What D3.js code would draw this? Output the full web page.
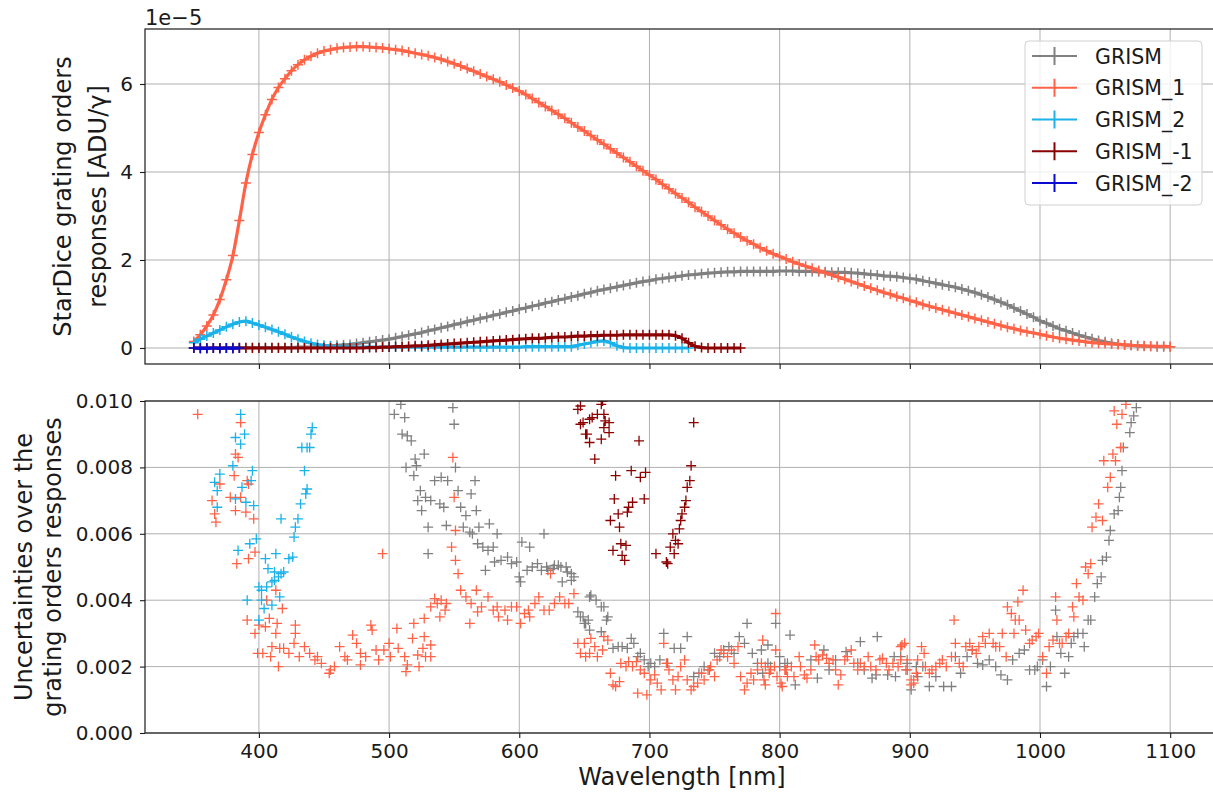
<!DOCTYPE html>
<html>
<head>
<meta charset="utf-8">
<script src="https://cdn.jsdelivr.net/npm/d3@7"></script>
<style>
  body { margin: 0; background: #fff; }
  text { font-family: "DejaVu Sans", sans-serif; fill: #1a1a1a; }
</style>
</head>
<body>
<script>
// ---- data ----
// top panel: responses in units of 1e-5 ADU/gamma, sampled every 5 nm from the given start
var seriesNames = ["GRISM", "GRISM_1", "GRISM_2", "GRISM_-1", "GRISM_-2"];
var seriesColors = ["#808080", "#ff6347", "#1ab2e8", "#8b0000", "#0a0ad2"];

var respStart = [350, 350, 350, 350, 350];

var respGrism = [0.0, 0.0, 0.0, 0.0, 0.0, 0.0, 0.01, 0.01, 0.01, 0.01, 0.01, 0.01, 0.01, 0.01, 0.01, 0.01, 0.02, 0.02, 0.02,
  0.03, 0.04, 0.05, 0.06, 0.07, 0.08, 0.1, 0.12, 0.14, 0.16, 0.18, 0.2, 0.23, 0.26, 0.29, 0.32, 0.35, 0.39, 0.42, 0.46,
  0.49, 0.53, 0.56, 0.6, 0.63, 0.67, 0.7, 0.74, 0.77, 0.81, 0.84, 0.88, 0.91, 0.95, 0.98, 1.02, 1.05, 1.09, 1.12, 1.16,
  1.19, 1.23, 1.26, 1.3, 1.33, 1.36, 1.39, 1.42, 1.45, 1.48, 1.51, 1.53, 1.56, 1.58, 1.6, 1.62, 1.64, 1.66, 1.67, 1.69,
  1.7, 1.71, 1.72, 1.73, 1.73, 1.74, 1.74, 1.74, 1.74, 1.74, 1.74, 1.75, 1.75, 1.75, 1.74, 1.74, 1.74, 1.73, 1.73, 1.72,
  1.72, 1.72, 1.71, 1.7, 1.69, 1.67, 1.66, 1.64, 1.63, 1.62, 1.6, 1.58, 1.56, 1.53, 1.5, 1.47, 1.44, 1.41, 1.38, 1.34,
  1.3, 1.26, 1.21, 1.16, 1.1, 1.04, 0.98, 0.91, 0.84, 0.77, 0.7, 0.62, 0.56, 0.5, 0.44, 0.39, 0.34, 0.29, 0.25, 0.21,
  0.17, 0.14, 0.11, 0.09, 0.07, 0.06, 0.05, 0.04, 0.04, 0.03, 0.03, 0.03];

var respGrism1 = [0.15, 0.3, 0.5, 0.75, 1.1, 1.55, 2.1, 2.9, 3.75, 4.4, 4.9, 5.3, 5.65, 5.92, 6.12, 6.3, 6.44, 6.55, 6.63,
  6.7, 6.75, 6.78, 6.81, 6.83, 6.84, 6.85, 6.85, 6.84, 6.83, 6.82, 6.8, 6.78, 6.76, 6.73, 6.7, 6.67, 6.64, 6.6, 6.56,
  6.51, 6.46, 6.41, 6.35, 6.29, 6.23, 6.17, 6.11, 6.05, 5.98, 5.91, 5.84, 5.76, 5.67, 5.58, 5.49, 5.4, 5.31, 5.22, 5.12,
  5.02, 4.93, 4.83, 4.73, 4.63, 4.53, 4.43, 4.33, 4.23, 4.13, 4.03, 3.93, 3.83, 3.72, 3.62, 3.51, 3.41, 3.31, 3.2, 3.1,
  3.0, 2.9, 2.8, 2.7, 2.61, 2.52, 2.44, 2.36, 2.28, 2.21, 2.14, 2.08, 2.02, 1.96, 1.91, 1.86, 1.81, 1.76, 1.71, 1.66,
  1.61, 1.56, 1.51, 1.46, 1.41, 1.36, 1.31, 1.26, 1.22, 1.17, 1.13, 1.08, 1.04, 0.99, 0.95, 0.91, 0.87, 0.83, 0.79, 0.75,
  0.71, 0.67, 0.63, 0.59, 0.55, 0.51, 0.47, 0.44, 0.4, 0.37, 0.34, 0.31, 0.28, 0.25, 0.22, 0.2, 0.18, 0.16, 0.14, 0.12,
  0.11, 0.1, 0.09, 0.08, 0.07, 0.06, 0.05, 0.05, 0.04, 0.04, 0.04, 0.03];

var respGrism2 = [0.12, 0.2, 0.27, 0.34, 0.41, 0.48, 0.54, 0.59, 0.61, 0.57, 0.52, 0.47, 0.42, 0.37, 0.31, 0.25, 0.2,
  0.15, 0.11, 0.08, 0.06, 0.04, 0.03, 0.02, 0.02, 0.02, 0.02, 0.02, 0.02, 0.02, 0.02, 0.02, 0.02, 0.02, 0.02, 0.02, 0.02,
  0.02, 0.02, 0.02, 0.02, 0.02, 0.02, 0.02, 0.02, 0.02, 0.02, 0.02, 0.02, 0.02, 0.02, 0.03, 0.03, 0.03, 0.03, 0.03, 0.03,
  0.03, 0.03, 0.06, 0.09, 0.12, 0.15, 0.16, 0.12, 0.05, 0.01, 0.0, 0.0, 0.0, 0.0, 0.0, 0.0, 0.0, 0.0, 0.0, 0.0];

var respGrismM1 = [0.0, 0.0, 0.0, 0.0, 0.0, 0.0, 0.0, 0.0, 0.0, 0.0, 0.0, 0.0, 0.0, 0.0, 0.0, 0.0, 0.0, 0.0, 0.0, 0.0,
  0.0, 0.0, 0.0, 0.0, 0.0, 0.0, 0.0, 0.01, 0.01, 0.02, 0.02, 0.03, 0.03, 0.04, 0.05, 0.05, 0.06, 0.07, 0.08, 0.09, 0.1,
  0.11, 0.12, 0.13, 0.14, 0.15, 0.16, 0.17, 0.18, 0.19, 0.2, 0.21, 0.22, 0.22, 0.23, 0.24, 0.25, 0.25, 0.26, 0.27, 0.27,
  0.28, 0.28, 0.29, 0.29, 0.29, 0.3, 0.3, 0.3, 0.3, 0.3, 0.3, 0.3, 0.3, 0.28, 0.22, 0.12, 0.04, 0.01, 0.0, 0.0, 0.0, 0.0,
  0.0, 0.0];

var respGrismM2 = [0.0, -0.01, -0.01, 0.0, -0.01, 0.0, -0.01, 0.0];

// bottom panel: relative uncertainties in units of 1e-3 (wavelength in nm, value)
var uncGrismWl = [504, 509, 510, 512, 513, 514, 517, 519, 520, 521, 522, 524, 525, 527, 528, 530, 530, 532, 535, 539,
  540, 542, 544, 545, 549, 550, 551, 553, 555, 557, 559, 562, 563, 564, 566, 567, 568, 569, 572, 574, 576, 577, 580, 581,
  583, 586, 591, 594, 598, 600, 601, 602, 606, 608, 610, 614, 617, 619, 621, 622, 626, 627, 630, 632, 633, 636, 637, 640,
  640, 642, 645, 647, 649, 650, 651, 653, 654, 654, 655, 659, 663, 663, 665, 667, 668, 672, 676, 679, 683, 686, 688, 691,
  693, 696, 699, 701, 704, 708, 711, 714, 719, 724, 729, 734, 738, 742, 746, 750, 754, 757, 761, 765, 769, 773, 775, 779,
  783, 786, 787, 791, 791, 793, 797, 800, 800, 804, 806, 808, 812, 824, 829, 834, 838, 843, 851, 860, 862, 865, 871, 874,
  875, 883, 888, 889, 893, 898, 898, 901, 905, 906, 910, 915, 920, 926, 932, 935, 939, 944, 948, 952, 956, 961, 966, 970,
  975, 979, 984, 988, 992, 996, 998, 1002, 1005, 1008, 1012, 1013, 1016, 1019, 1022, 1024, 1026, 1029, 1033, 1034, 1037,
  1039, 1042, 1044, 1047, 1048, 1051, 1053, 1054, 1057, 1060, 1061, 1062, 1063, 1064, 1069, 1070, 1072, 1074];
var uncGrism = [9.6, 9.9, 9.0, 9.5, 8.0, 8.95, 8.8, 7.75, 8.25, 8.05, 7.0, 7.3, 6.7, 8.4, 7.1, 6.2, 5.4, 7.0, 7.6, 6.9,
  7.7, 6.8, 6.25, 7.6, 9.8, 9.3, 8.0, 7.3, 6.8, 6.2, 6.55, 6.05, 7.2, 6.0, 7.6, 6.7, 5.7, 6.2, 5.6, 4.9, 5.5, 6.3, 5.6,
  5.15, 6.0, 5.2, 5.3, 5.1, 5.15, 4.7, 4.55, 5.75, 4.9, 5.6, 5.0, 5.1, 4.9, 6.0, 5.0, 4.9, 4.95, 5.05, 5.05, 5.0, 4.55,
  5.0, 4.85, 4.8, 4.6, 4.7, 3.65, 3.5, 3.5, 3.3, 3.3, 3.4, 3.1, 4.1, 4.15, 4.0, 3.8, 3.05, 3.8, 3.4, 3.5, 2.55, 2.6, 2.6,
  2.55, 2.85, 2.7, 2.3, 2.4, 2.2, 2.0, 2.1, 2.0, 2.2, 3.0, 2.1, 2.55, 2.55, 2.9, 1.7, 1.8, 2.0, 1.9, 2.4, 2.3, 2.5, 2.6,
  2.4, 2.9, 2.7, 3.3, 2.4, 2.1, 2.5, 1.8, 2.1, 2.65, 2.0, 3.3, 2.3, 2.0, 2.1, 2.1, 2.95, 1.45, 2.2, 1.65, 2.5, 1.9, 2.2,
  2.45, 2.1, 2.75, 1.9, 1.65, 1.75, 2.9, 1.75, 2.3, 1.7, 2.3, 1.9, 2.1, 1.3, 2.0, 1.7, 2.0, 1.4, 1.7, 1.4, 1.4, 2.3, 1.8,
  2.3, 2.5, 2.1, 2.05, 2.2, 2.0, 1.75, 1.6, 2.2, 2.4, 2.5, 1.9, 1.9, 2.0, 2.2, 1.4, 2.0, 3.7, 2.9, 2.4, 1.8, 2.3, 2.7,
  2.9, 3.0, 3.0, 2.6, 3.4, 3.4, 4.1, 4.5, 4.7, 5.2, 5.3, 5.8, 6.1, 6.6, 6.7, 7.1, 7.4, 7.9, 8.6, 9.05, 9.35, 9.55, 9.8];

var uncGrism1Wl = [353, 364, 366, 367, 370, 378, 381, 382, 382, 383, 384, 386, 386, 390, 391, 391, 392, 392, 396, 397,
  397, 399, 400, 403, 405, 406, 408, 409, 410, 413, 413, 414, 415, 416, 418, 419, 423, 427, 428, 428, 431, 435, 439, 443,
  445, 448, 454, 455, 458, 462, 466, 468, 472, 475, 478, 478, 482, 486, 487, 490, 492, 495, 496, 500, 501, 506, 507, 512,
  513, 514, 518, 519, 522, 523, 526, 527, 527, 528, 532, 532, 532, 535, 537, 539, 540, 543, 544, 548, 549, 550, 551, 551,
  553, 555, 559, 562, 563, 567, 568, 571, 576, 580, 583, 584, 589, 591, 594, 598, 601, 604, 607, 608, 612, 615, 619, 623,
  624, 627, 631, 635, 638, 642, 645, 647, 650, 651, 654, 655, 658, 660, 664, 665, 668, 670, 672, 674, 677, 678, 682, 684,
  687, 690, 691, 693, 696, 698, 701, 704, 706, 709, 711, 713, 715, 718, 720, 722, 724, 727, 729, 732, 734, 737, 740, 742,
  745, 747, 750, 752, 755, 757, 760, 763, 765, 768, 770, 773, 775, 778, 780, 783, 786, 787, 788, 789, 789, 792, 793, 796,
  797, 797, 798, 801, 802, 804, 805, 806, 809, 811, 815, 816, 819, 821, 824, 827, 828, 830, 833, 836, 838, 841, 843, 845,
  847, 850, 852, 855, 857, 860, 862, 865, 868, 870, 874, 877, 879, 882, 884, 887, 891, 893, 893, 894, 896, 897, 898, 901,
  901, 903, 903, 905, 906, 909, 911, 912, 915, 917, 920, 923, 925, 928, 932, 934, 935, 938, 941, 943, 946, 948, 951, 953,
  956, 958, 961, 964, 966, 969, 971, 974, 975, 978, 980, 981, 983, 984, 987, 989, 992, 994, 997, 999, 1002, 1005, 1007,
  1010, 1012, 1013, 1015, 1017, 1020, 1022, 1025, 1026, 1028, 1030, 1033, 1035, 1037, 1039, 1040, 1043, 1045, 1048, 1049,
  1052, 1054, 1056, 1057, 1058, 1059, 1062, 1063, 1066];
var uncGrism1 = [9.6, 7.0, 6.6, 6.35, 7.5, 7.1, 7.75, 8.4, 6.7, 5.1, 8.3, 9.35, 7.1, 6.65, 7.6, 3.4, 7.5, 5.25, 6.45, 5.45,
  3.0, 2.4, 3.25, 2.4, 3.2, 4.0, 3.45, 2.3, 2.6, 4.3, 3.0, 3.3, 2.0, 2.55, 3.75, 2.55, 2.4, 2.7, 3.25, 3.0, 2.3, 2.6, 2.4,
  2.2, 2.3, 2.1, 1.8, 1.9, 2.0, 2.6, 2.3, 2.2, 2.95, 2.7, 2.4, 2.05, 2.3, 3.25, 3.1, 2.5, 2.2, 5.4, 2.5, 2.7, 2.3, 3.15,
  2.55, 2.3, 1.85, 2.05, 2.85, 3.3, 2.35, 2.0, 2.55, 2.9, 3.45, 2.3, 2.65, 2.3, 3.8, 4.05, 3.9, 3.5, 4.0, 3.7, 3.9, 5.6,
  8.3, 7.1, 6.1, 5.2, 4.8, 4.3, 4.1, 3.3, 3.9, 4.3, 3.65, 3.8, 4.1, 3.7, 3.8, 3.5, 3.7, 3.4, 3.8, 3.8, 3.3, 3.6, 3.7, 3.5,
  3.9, 4.1, 3.7, 3.7, 4.8, 3.9, 4.1, 3.9, 3.9, 4.2, 2.7, 2.4, 2.7, 2.3, 2.4, 2.85, 2.6, 2.3, 2.5, 2.9, 2.8, 1.8, 1.45, 1.4,
  1.55, 2.1, 2.0, 2.15, 2.0, 2.15, 1.2, 1.9, 1.8, 1.15, 1.6, 1.75, 1.5, 1.3, 2.7, 2.1, 1.9, 1.6, 1.3, 1.7, 2.0, 2.2, 1.6,
  1.3, 1.4, 1.5, 1.8, 1.6, 1.9, 2.0, 1.7, 2.2, 2.5, 2.4, 2.3, 2.5, 2.1, 2.6, 1.7, 1.3, 1.5, 1.8, 1.6, 1.9, 2.1, 2.8, 1.6,
  2.0, 1.45, 1.8, 1.9, 2.0, 3.6, 2.5, 1.7, 1.5, 1.4, 1.9, 1.9, 1.7, 2.0, 1.7, 2.3, 2.0, 1.75, 1.65, 1.9, 2.65, 2.3, 2.2,
  2.35, 2.25, 2.1, 2.2, 1.9, 1.45, 1.75, 2.2, 2.3, 2.5, 2.1, 1.9, 2.1, 2.0, 2.3, 2.0, 1.9, 2.2, 2.25, 2.1, 1.9, 2.1, 2.0,
  2.2, 2.6, 2.65, 2.7, 1.9, 2.2, 1.45, 1.6, 1.6, 1.5, 1.8, 2.2, 2.6, 2.4, 2.0, 1.8, 1.9, 2.0, 2.1, 2.2, 2.0, 2.3, 3.4,
  2.7, 2.1, 2.0, 2.6, 2.7, 2.5, 2.4, 2.6, 2.9, 2.7, 3.0, 2.7, 2.6, 2.6, 3.0, 2.3, 3.8, 3.6, 3.0, 3.4, 3.95, 3.4, 4.3, 3.1,
  2.7, 2.8, 2.9, 3.0, 2.3, 1.8, 2.6, 2.8, 4.1, 3.4, 2.7, 2.7, 2.9, 3.0, 3.8, 3.5, 4.5, 4.1, 4.0, 5.0, 4.8, 5.1, 6.2, 6.5,
  6.9, 6.4, 8.2, 7.4, 7.7, 8.4, 9.7, 8.2, 9.3, 8.6, 9.6, 9.9];

var uncGrism2Wl = [366, 368, 368, 370, 380, 382, 382, 384, 386, 386, 387, 389, 390, 391, 393, 394, 395, 396, 398, 400,
  400, 402, 402, 404, 405, 406, 407, 410, 410, 412, 412, 413, 415, 416, 417, 417, 419, 423, 426, 427, 428, 430, 432, 433,
  435, 436, 437, 437, 439, 440, 441];
var uncGrism2 = [7.55, 7.3, 6.8, 7.8, 8.05, 8.9, 7.05, 5.5, 9.6, 8.7, 7.4, 9.0, 6.95, 4.0, 5.7, 7.6, 7.9, 6.85, 5.85, 4.4,
  3.4, 4.3, 4.0, 3.75, 5.25, 4.4, 4.95, 4.55, 3.85, 4.6, 4.85, 5.4, 4.7, 4.1, 4.8, 6.45, 4.85, 5.25, 5.3, 5.9, 6.2, 6.45,
  6.9, 8.6, 7.9, 7.2, 7.35, 8.6, 8.6, 9.0, 9.2];

var uncGrismM1Wl = [645, 647, 647, 649, 651, 652, 654, 654, 656, 658, 660, 663, 663, 664, 665, 665, 666, 669, 669, 670,
  672, 673, 674, 676, 677, 678, 679, 681, 682, 683, 684, 686, 687, 692, 693, 696, 697, 705, 713, 714, 716, 718, 719, 720,
  722, 723, 724, 725, 727, 728, 729, 731, 732, 734];
var uncGrismM1 = [9.75, 9.85, 9.3, 9.35, 9.0, 9.0, 9.45, 8.75, 9.5, 8.25, 9.6, 9.9, 8.85, 10.0, 9.6, 9.2, 9.4, 9.35, 9.05,
  6.4, 5.5, 7.05, 7.75, 6.6, 6.2, 5.7, 5.35, 5.2, 5.65, 6.65, 6.8, 7.9, 6.95, 8.8, 7.7, 7.05, 7.85, 5.4, 5.15, 5.1, 5.6,
  6.0, 5.4, 5.8, 5.7, 6.15, 6.4, 6.6, 6.8, 7.0, 7.4, 7.6, 8.05, 9.35];

var xTicks = [400, 500, 600, 700, 800, 900, 1000, 1100];
var topTicks = [0, 2, 4, 6];
var botTicks = [0, 2, 4, 6, 8, 10];

// ---- layout ----
var width = 1213, height = 793;
var left = 145, right = 1219,
    topPanel = {top: 29, bottom: 364},
    botPanel = {top: 401, bottom: 733};

var svg = d3.select("body").append("svg")
    .attr("width", width)
    .attr("height", height);

var x = d3.scaleLinear().domain([312.5, 1137.5]).range([left, right]),
    yTop = d3.scaleLinear().domain([-0.364, 7.25]).range([topPanel.bottom, topPanel.top]),
    yBot = d3.scaleLinear().domain([0, 10]).range([botPanel.bottom, botPanel.top]);

var defs = svg.append("defs");
[["clipTop", topPanel], ["clipBot", botPanel]].forEach(function(c) {
  defs.append("clipPath").attr("id", c[0]).append("rect")
    .attr("x", left).attr("y", c[1].top)
    .attr("width", right - left).attr("height", c[1].bottom - c[1].top);
});

// grids
function drawGrid(panel, yScale, yTickVals) {
  var g = svg.append("g").attr("class", "grid");
  g.selectAll(".vg").data(xTicks).enter().append("line")
    .attr("x1", d => x(d)).attr("x2", d => x(d))
    .attr("y1", panel.top).attr("y2", panel.bottom)
    .attr("stroke", "#b0b0b0").attr("stroke-width", 1);
  g.selectAll(".hg").data(yTickVals).enter().append("line")
    .attr("x1", left).attr("x2", right)
    .attr("y1", d => yScale(d)).attr("y2", d => yScale(d))
    .attr("stroke", "#b0b0b0").attr("stroke-width", 1);
}
drawGrid(topPanel, yTop, topTicks);
drawGrid(botPanel, yBot, botTicks);

// '+' marker path for a list of points
function plusPath(pts, a) {
  return pts.map(p => `M${p[0] - a},${p[1]}h${2 * a}M${p[0]},${p[1] - a}v${2 * a}`).join("");
}

// top panel: thick line + '+' markers (dense errorbar look)
var respSeries = [respGrism, respGrism1, respGrism2, respGrismM1, respGrismM2];
var gTop = svg.append("g").attr("clip-path", "url(#clipTop)");
respSeries.forEach(function(vals, i) {
  var pts = vals.map((v, j) => [x(respStart[i] + 5 * j), yTop(v)]);
  gTop.append("path")
    .attr("d", d3.line().curve(d3.curveMonotoneX)(pts))
    .attr("fill", "none")
    .attr("stroke", seriesColors[i])
    .attr("stroke-width", 3.2);
  gTop.append("path")
    .attr("d", plusPath(pts, 5))
    .attr("fill", "none")
    .attr("stroke", seriesColors[i])
    .attr("stroke-width", 1.5);
});

// bottom panel: '+' markers only
var uncSeries = [[uncGrismWl, uncGrism], [uncGrism1Wl, uncGrism1], [uncGrism2Wl, uncGrism2], [uncGrismM1Wl, uncGrismM1]];
var gBot = svg.append("g").attr("clip-path", "url(#clipBot)");
uncSeries.forEach(function(s, i) {
  var pts = s[0].map((w, j) => [x(w), yBot(s[1][j])]);
  gBot.append("path")
    .attr("d", plusPath(pts, 5))
    .attr("fill", "none")
    .attr("stroke", seriesColors[i])
    .attr("stroke-width", 1.3);
});

// axes
function styleAxis(g) {
  g.select(".domain").remove();
  g.selectAll(".tick line").attr("stroke", "#1a1a1a").attr("stroke-width", 1.1);
  g.selectAll(".tick text").attr("font-size", 20).attr("fill", "#1a1a1a")
    .attr("font-family", "DejaVu Sans, sans-serif");
}

svg.append("g")
  .attr("transform", `translate(0,${topPanel.bottom})`)
  .call(d3.axisBottom(x).tickValues(xTicks).tickSize(5).tickFormat(""))
  .call(styleAxis);
svg.append("g")
  .attr("transform", `translate(0,${botPanel.bottom})`)
  .call(d3.axisBottom(x).tickValues(xTicks).tickSize(5).tickPadding(6).tickFormat(d3.format("d")))
  .call(styleAxis);
svg.append("g")
  .attr("transform", `translate(${left},0)`)
  .call(d3.axisLeft(yTop).tickValues(topTicks).tickSize(5).tickPadding(7).tickFormat(d3.format("d")))
  .call(styleAxis);
svg.append("g")
  .attr("transform", `translate(${left},0)`)
  .call(d3.axisLeft(yBot).tickValues(botTicks).tickSize(5).tickPadding(7).tickFormat(d => (d / 1000).toFixed(3)))
  .call(styleAxis);

// frames
[topPanel, botPanel].forEach(function(p) {
  svg.append("rect")
    .attr("x", left).attr("y", p.top)
    .attr("width", right - left).attr("height", p.bottom - p.top)
    .attr("fill", "none").attr("stroke", "#1a1a1a").attr("stroke-width", 1.2);
});

// offset text and axis labels
svg.append("text").attr("x", left).attr("y", 25).attr("font-size", 21).text("1e\u22125");

svg.append("text")
  .attr("x", (left + right) / 2).attr("y", 785)
  .attr("text-anchor", "middle").attr("font-size", 24)
  .text("Wavelength [nm]");

function yLabel(lines, cy, xs) {
  lines.forEach(function(t, i) {
    svg.append("text")
      .attr("transform", `translate(${xs[i]},${cy}) rotate(-90)`)
      .attr("text-anchor", "middle").attr("font-size", 24)
      .text(t);
  });
}
yLabel(["StarDice grating orders", "responses [ADU/\u03b3]"], (topPanel.top + topPanel.bottom) / 2, [71, 106]);
yLabel(["Uncertainties over the", "grating orders responses"], (botPanel.top + botPanel.bottom) / 2, [32, 61]);

// legend
var legend = svg.append("g").attr("transform", "translate(1025,41)");
legend.append("rect")
  .attr("width", 177).attr("height", 164).attr("rx", 4)
  .attr("fill", "#fff").attr("fill-opacity", 0.8)
  .attr("stroke", "#d0d0d0").attr("stroke-width", 1);
var items = legend.selectAll(".item").data(seriesNames).enter().append("g")
  .attr("transform", (d, i) => `translate(0,${15 + i * 31.75})`);
items.append("line")
  .attr("x1", 7).attr("x2", 52)
  .attr("stroke", (d, i) => seriesColors[i]).attr("stroke-width", 2);
items.append("line")
  .attr("x1", 29.5).attr("x2", 29.5).attr("y1", -9).attr("y2", 9)
  .attr("stroke", (d, i) => seriesColors[i]).attr("stroke-width", 2);
items.append("text")
  .attr("x", 70).attr("y", 7.5)
  .attr("font-size", 20.5)
  .text(d => d);
</script>
</body>
</html>
